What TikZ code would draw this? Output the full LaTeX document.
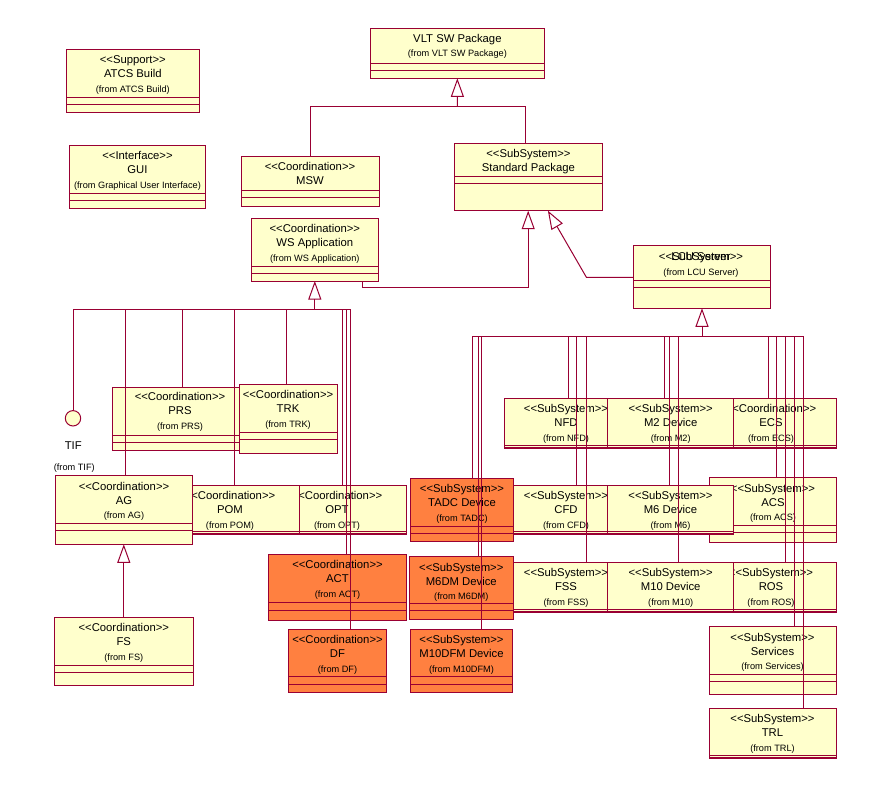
\documentclass[tikz,border=0pt]{standalone}
\usepackage{fontspec}
\newfontfamily\uf{Liberation Sans}
\usetikzlibrary{arrows.meta}
\definecolor{lc}{RGB}{153,0,51}
\definecolor{uy}{RGB}{255,255,204}
\definecolor{uo}{RGB}{255,128,64}
\tikzset{
  edge/.style={draw=lc, line width=1pt},
  gen/.style={edge, -{Triangle[open, length=18.5pt, width=13pt]}},
  box/.style={draw=lc, line width=1pt, rectangle, inner sep=0pt, outer sep=0pt},
  st/.style={font=\uf\fontsize{11.3}{13}\selectfont, anchor=base, inner sep=0pt},
  fr/.style={font=\uf\fontsize{9.2}{11}\selectfont, anchor=base, inner sep=0pt},
}
% id, fill, x1, y1, x2, y2, sep1, sep2
\newcommand\ubox[8]{%
  \node[box, fill=#2, minimum width={(#5)-(#3)}, minimum height={(#6)-(#4)}, anchor=north west] (#1) at (#3,#4) {};
  \draw[edge] (#1.west |- 0,#7) -- (#1.east |- 0,#7) (#1.west |- 0,#8) -- (#1.east |- 0,#8);
}
% id, cx, top, stereo, name, from
\newcommand\utx[6]{%
  \node[st] (#1-s) at (#2,#3+14.5) {#4};
  \node[st] (#1-n) at (#2,#3+28.5) {#5};
  \node[fr] (#1-f) at (#2,#3+43) {#6};
}
\begin{document}
\begin{tikzpicture}[x=1pt,y=-1pt]
\path[use as bounding box, fill=white] (0,0) rectangle (876,795);
% top
\ubox{atcs}{uy}{66.4}{49.3}{199.3}{112.3}{97.3}{104.7}
\utx{atcs}{132.8}{49.3}{<<Support>>}{ATCS Build}{(from ATCS Build)}
\ubox{gui}{uy}{69.3}{145.3}{205.7}{208.3}{193.3}{200.3}
\utx{gui}{137.5}{145.3}{<<Interface>>}{GUI}{(from Graphical User Interface)}
\ubox{vlt}{uy}{370.4}{28.3}{544.3}{78.3}{63.3}{70.7}
\node[st] (vlt-n) at (457.4,28.3+14.5) {VLT SW Package};
\node[fr] (vlt-f) at (457.4,28.3+28.5) {(from VLT SW Package)};
\ubox{msw}{uy}{241.4}{156}{379.3}{206}{190.3}{197.3}
\node[st] (msw-s) at (310,156+14.5) {<<Coordination>>};
\node[st] (msw-n) at (310,156+28.5) {MSW};
\ubox{std}{uy}{454.3}{143.3}{602.5}{210.7}{176}{183.3}
\node[st] (std-s) at (528.4,143.3+14.3) {<<SubSystem>>};
\node[st] (std-n) at (528.4,143.3+28) {Standard Package};
\ubox{ws}{uy}{251.4}{218.3}{378.2}{281}{266.7}{273}
\utx{ws}{314.8}{218.3}{<<Coordination>>}{WS Application}{(from WS Application)}
\ubox{lcu}{uy}{633.6}{245.7}{770.4}{308.3}{280.3}{287.3}
\node[st] (lcu-s) at (701,245.7+15) {<<SubSystem>>};
\node[st] (lcu-n) at (701,245.7+15) {LCU Server};
\node[fr] (lcu-f) at (701,245.7+29.5) {(from LCU Server)};
% left group
\ubox{prs}{uy}{112.7}{387.3}{247.3}{450.3}{435.3}{442.3}
\utx{prs}{180}{386.3}{<<Coordination>>}{PRS}{(from PRS)}
\ubox{trk}{uy}{239.3}{384.3}{337.3}{453.3}{432.3}{439.3}
\utx{trk}{288}{384.3}{<<Coordination>>}{TRK}{(from TRK)}
\node[circle, draw=lc, fill=uy, line width=1pt, minimum size=15.4pt, inner sep=0pt] (tif) at (73,418.3) {};
\node[st] (tif-n) at (73.3,449) {TIF};
\node[fr] (tif-f) at (74.3,470) {(from TIF)};
\ubox{opt}{uy}{266}{485}{406}{534}{531}{533}
\utx{opt}{337}{485}{<<Coordination>>}{OPT}{(from OPT)}
\ubox{pom}{uy}{160.7}{485}{299.3}{534}{531}{533}
\utx{pom}{230}{485}{<<Coordination>>}{POM}{(from POM)}
\ubox{ag}{uy}{55.7}{475.7}{192.3}{544.3}{523.3}{530}
\utx{ag}{124}{475.7}{<<Coordination>>}{AG}{(from AG)}
\ubox{fs}{uy}{54.3}{617.3}{193.3}{685.3}{665.7}{672.7}
\utx{fs}{123.8}{617.3}{<<Coordination>>}{FS}{(from FS)}
\ubox{act}{uo}{268.3}{554.3}{406.7}{620}{602.7}{610}
\utx{act}{337.5}{554.3}{<<Coordination>>}{ACT}{(from ACT)}
\ubox{df}{uo}{288.3}{629.3}{386.7}{692.3}{676.7}{684}
\utx{df}{337.5}{629.3}{<<Coordination>>}{DF}{(from DF)}
% right group row 1
\ubox{nfd}{uy}{504.3}{398.3}{628}{448}{445}{447}
\utx{nfd}{566}{398.3}{<<SubSystem>>}{NFD}{(from NFD)}
\ubox{ecs}{uy}{705.3}{398.3}{836.7}{448}{445}{447}
\utx{ecs}{771}{398.3}{<<Coordination>>}{ECS}{(from ECS)}
\ubox{m2}{uy}{607.7}{398.3}{733.7}{448}{445}{447}
\utx{m2}{670.7}{398.3}{<<SubSystem>>}{M2 Device}{(from M2)}
% row 2
\ubox{cfd}{uy}{504.3}{485}{628}{534}{531}{533}
\utx{cfd}{566}{485}{<<SubSystem>>}{CFD}{(from CFD)}
\ubox{acs}{uy}{709.3}{477.7}{836.7}{542.3}{525.7}{532.7}
\utx{acs}{773}{477.7}{<<SubSystem>>}{ACS}{(from ACS)}
\ubox{m6}{uy}{607.7}{485}{733.3}{534}{531}{533}
\utx{m6}{670.5}{485}{<<SubSystem>>}{M6 Device}{(from M6)}
\ubox{tadc}{uo}{410.7}{478.3}{513.3}{541}{526.7}{533.3}
\utx{tadc}{462}{478.3}{<<SubSystem>>}{TADC Device}{(from TADC)}
% row 3
\ubox{fss}{uy}{504.3}{562.3}{628}{612}{609}{611}
\utx{fss}{566}{562.3}{<<SubSystem>>}{FSS}{(from FSS)}
\ubox{ros}{uy}{705.3}{562.3}{836.7}{612}{609}{611}
\utx{ros}{771}{562.3}{<<SubSystem>>}{ROS}{(from ROS)}
\ubox{m10}{uy}{607.7}{562.3}{733.7}{612}{609}{611}
\utx{m10}{670.7}{562.3}{<<SubSystem>>}{M10 Device}{(from M10)}
\ubox{m6dm}{uo}{409.3}{556.7}{513.3}{619.3}{603.3}{610.7}
\utx{m6dm}{461.3}{556.7}{<<SubSystem>>}{M6DM Device}{(from M6DM)}
% row 4-5
\ubox{svc}{uy}{709.3}{626.7}{836.7}{694}{674.7}{681.7}
\utx{svc}{772.5}{626.7}{<<SubSystem>>}{Services}{(from Services)}
\ubox{trl}{uy}{709.3}{708.3}{836.7}{758.3}{755.5}{757.5}
\utx{trl}{772.5}{708.3}{<<SubSystem>>}{TRL}{(from TRL)}
\ubox{m10dfm}{uo}{410.7}{629.3}{512.3}{692.3}{676.7}{684}
\utx{m10dfm}{461.5}{629.3}{<<SubSystem>>}{M10DFM Device}{(from M10DFM)}
% ---------- connectors ----------
\coordinate (j1) at (457.4,106.7);
\draw[edge] (310.4,0 |- msw.north) |- (j1);
\draw[edge] (525.4,0 |- std.north) |- (j1);
\draw[gen] (j1) -- (vlt.south);
\draw[gen] (362,0 |- ws.south) |- (528.2,287.3) -- (528.2,0 |- std.south);
\draw[gen] (lcu.west |- 0,277.3) -- (586.4,277.3) -- (547.9,0 |- std.south);
% left bus
\coordinate (lb) at (73,309.3);
\coordinate (lbe) at (350,309.3);
\draw[gen] (ws.south |- lb) -- (ws.south);
\draw[edge] (lb) -- (lbe);
\draw[edge] (lb) -- (tif.north);
\draw[edge] (125.7,309.3) -- (125.7,0 |- ag.north);
\draw[edge] (182.7,309.3) -- (182.7,0 |- prs.north);
\draw[edge] (234.3,309.3) -- (234.3,0 |- pom.north);
\draw[edge] (286.7,309.3) -- (286.7,0 |- trk.north);
\draw[edge] (342.3,309.3) -- (342.3,0 |- opt.north);
\draw[edge] (346,309.3) -- (346,0 |- act.north);
\draw[edge] (lbe) -- (350,0 |- df.north);
% right bus
\coordinate (rb) at (472.3,336.3);
\coordinate (rbe) at (803.3,336.3);
\draw[gen] (lcu.south |- rb) -- (lcu.south);
\draw[edge] (rb) -- (rbe);
\draw[edge] (rb) -- (472.3,0 |- tadc.north);
\draw[edge] (478.3,336.3) -- (478.3,0 |- m6dm.north);
\draw[edge] (481.7,336.3) -- (481.7,0 |- m10dfm.north);
\draw[edge] (568.3,336.3) -- (568.3,0 |- nfd.north);
\draw[edge] (576.7,336.3) -- (576.7,0 |- cfd.north);
\draw[edge] (586.3,336.3) -- (586.3,0 |- fss.north);
\draw[edge] (664.3,336.3) -- (664.3,0 |- m2.north);
\draw[edge] (669.3,336.3) -- (669.3,0 |- m6.north);
\draw[edge] (678.3,336.3) -- (678.3,0 |- m10.north);
\draw[edge] (768.3,336.3) -- (768.3,0 |- ecs.north);
\draw[edge] (776.7,336.3) -- (776.7,0 |- acs.north);
\draw[edge] (785.7,336.3) -- (785.7,0 |- ros.north);
\draw[edge] (794.3,336.3) -- (794.3,0 |- svc.north);
\draw[edge] (rbe) -- (803.3,0 |- trl.north);
% FS -> AG
\draw[gen] (fs.north) -- (fs.north |- ag.south);
\end{tikzpicture}
\end{document}
